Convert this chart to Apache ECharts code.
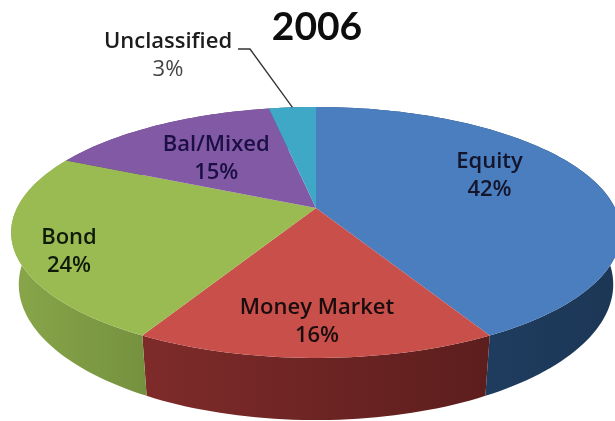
<!DOCTYPE html>
<html><head><meta charset="utf-8">
<style>html,body{margin:0;padding:0;background:#fff}#c{width:615px;height:421px}</style>
<script src="https://cdn.jsdelivr.net/npm/echarts@6/dist/echarts.min.js"></script>
</head><body><div id="c"></div>
<script>
const chartTitle = '2006';
const categories = ['Equity', 'Money Market', 'Bond', 'Bal/Mixed', 'Unclassified'];
const shares = [42, 16, 24, 15, 3];
const topColors = ['#4a7ebf', '#c94f4b', '#9abb52', '#8259a4', '#3fa8c6'];
const sideStart = ['#22456c', '#7e2b2a', '#88a649', '#5f4279', '#2c7a90'];
const sideEnd = ['#1c3655', '#5c1e1d', '#75913f', '#5f4279', '#2c7a90'];
const labelColors = ['#14142a', '#1a0d0d', '#0f1a0a', '#1b0f45', '#1c1c1c'];
// label placement: [pie radius fraction, dx, dy]
const labelPlace = [[0.65, -9, -13], [0.78, 1, 3], [0.8, -8, 12], [0.62, 4, 5], [1, 0, 0]];

const geo = {cx: 316, cy: 208, R: 299, A: 120.7, k: 0.195, D: 50, shrink: 0.975, fontSize: 22, gap: 14};
function project(deg, r, depth) {
  const a = deg * Math.PI / 180, u = r * Math.sin(a), v = -r * Math.cos(a);
  const w = 1 - geo.k * v;
  const s = depth ? geo.shrink : 1;
  return [geo.cx + s * geo.R * u / w, geo.cy + (geo.A * v + (depth || 0)) / w];
}
const total = shares.reduce((s, v) => s + v, 0);
function range(i) {
  let before = 0;
  for (let j = 0; j < i; j++) before += shares[j];
  return [before / total * 360, (before + shares[i]) / total * 360];
}
function arc(a0, a1, depth) {
  const n = Math.max(4, Math.ceil((a1 - a0) / 1.5)), pts = [];
  for (let i = 0; i <= n; i++) pts.push(project(a0 + (a1 - a0) * i / n, 1, depth));
  return pts;
}
const rows = shares.map(v => [v]);

function renderSide(params, api) {
  const i = params.dataIndex, [a0, a1] = range(i);
  const top = arc(a0, a1, 0), bottom = arc(a0, a1, geo.D).reverse();
  return {type: 'polygon', shape: {points: top.concat(bottom)},
    style: {fill: new echarts.graphic.LinearGradient(0, 0, 1, 0,
      [{offset: 0, color: sideStart[i]}, {offset: 1, color: sideEnd[i]}]), stroke: null}};
}
function renderTop(params, api) {
  const i = params.dataIndex, [a0, a1] = range(i);
  const pts = [project(0, 0)].concat(arc(a0, a1, 0));
  const children = [{type: 'polygon', shape: {points: pts}, style: {fill: topColors[i]}}];
  const pct = Math.round(api.value(0) / total * 100) + '%';
  const mid = (a0 + a1) / 2;
  const base = {textAlign: 'center', textVerticalAlign: 'middle',
    fontFamily: 'Open Sans', fontWeight: 600, fontSize: geo.fontSize, fill: labelColors[i]};
  let lx, ly;
  if (i === 4) {
    const tip = project(mid, 1);
    children.push({type: 'polyline', shape: {points: [[238, 49], [250, 49], tip]},
      style: {stroke: '#333', lineWidth: 1.3, fill: null}, z2: 5});
    lx = 168; ly = 56;
  } else {
    const p = project(mid, labelPlace[i][0]);
    lx = p[0] + labelPlace[i][1]; ly = p[1] + labelPlace[i][2];
  }
  children.push({type: 'text', z2: 6, style: Object.assign({text: categories[i], x: lx, y: ly - geo.gap}, base)});
  children.push({type: 'text', z2: 6, style: Object.assign({text: pct, x: lx, y: ly + geo.gap}, base,
    {fontWeight: i === 4 ? 'normal' : 600, fill: i === 4 ? '#444' : labelColors[i]})});
  return {type: 'group', children};
}
const chart = echarts.init(document.getElementById('c'), null, {renderer: 'canvas'});
chart.setOption({
  animation: false,
  backgroundColor: '#fff',
  title: {text: chartTitle, left: 312, top: 3, textAlign: 'center',
    textStyle: {fontFamily: 'Lato', fontWeight: 'bold', fontSize: 39, color: '#0d0d0d'}},
  series: [
    {type: 'custom', coordinateSystem: 'none', renderItem: renderSide, data: rows, z: 1, silent: true},
    {type: 'custom', coordinateSystem: 'none', renderItem: renderTop, data: rows, z: 2, silent: true}
  ]
});
</script></body></html>
